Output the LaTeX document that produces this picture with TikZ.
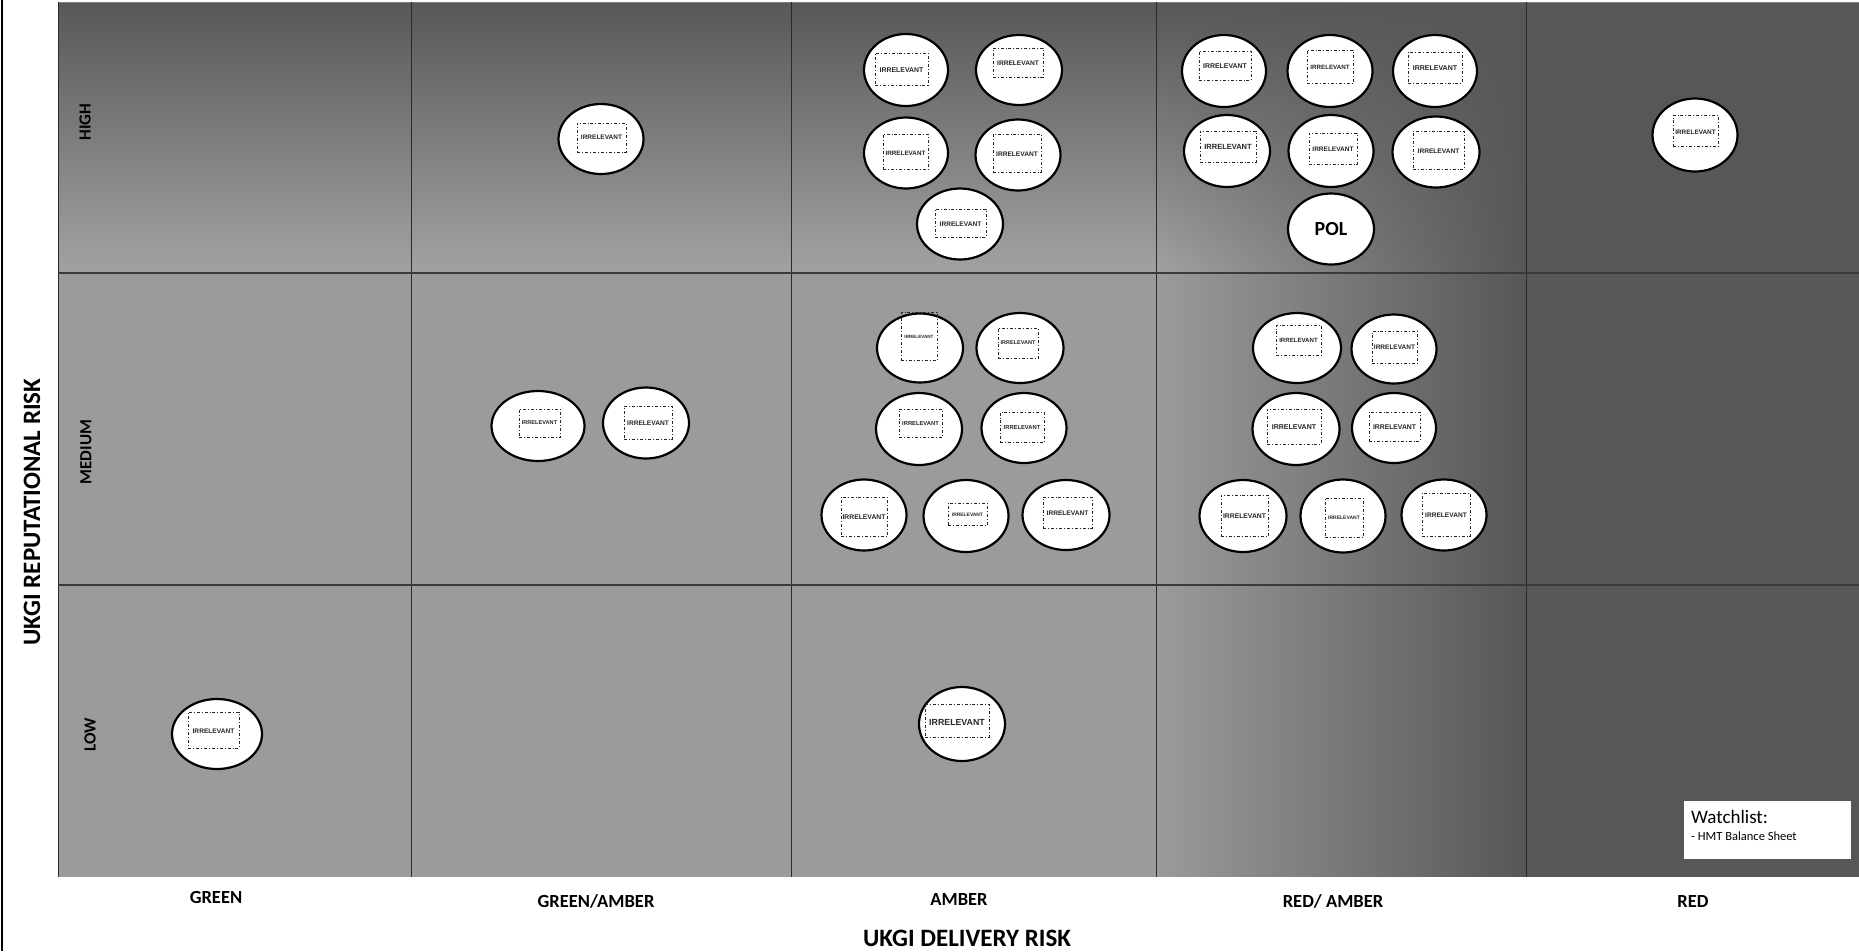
\documentclass[tikz,border=0pt]{standalone}
\usepackage{fontspec}
\setmainfont{Carlito}
\newfontfamily\arialf{Liberation Sans}
\usetikzlibrary{shapes.geometric,fadings}
\definecolor{bgmid}{HTML}{9B9B9B}
\definecolor{bgdark}{HTML}{575757}
\definecolor{bgtop}{HTML}{585858}
\definecolor{bgtopb}{HTML}{A2A2A2}
\definecolor{gridc}{HTML}{2A2A2A}
\definecolor{rowc}{HTML}{3A3A3A}
\begin{document}
\begin{tikzpicture}[x=1pt,y=-1pt,
  blobst/.style={ellipse, draw=black, line width=2.2pt, fill=white, inner sep=0pt},
  boxst/.style={draw=black!85, line width=0.9pt, dash dot, inner sep=0pt},
  axisst/.style={font=\bfseries\fontsize{18.5}{22}\selectfont, inner sep=0pt},
  rowst/.style={font=\bfseries\fontsize{17}{20}\selectfont, rotate=90, inner sep=0pt},
  titlest/.style={font=\bfseries\fontsize{25}{30}\selectfont, inner sep=0pt},
  gridline/.style={draw=gridc, line width=1pt},
  rowline/.style={draw=rowc, line width=1.6pt}
]
\useasboundingbox (0,0) rectangle (1859,951);
% backgrounds
\fill[bgmid] (58,273) rectangle (1526,877);
\shade[top color=bgtop, bottom color=bgtopb] (58,2) rectangle (1526,273);
\fill[bgdark, path fading=west] (1156,2) rectangle (1526,877);
\fill[bgdark] (1526,2) rectangle (1859,877);
% outer left line
\draw[black, line width=2pt] (2,0) -- (2,951);
% grid
\draw[gray, line width=1pt] (58,2) -- (1859,2);
\foreach \gx in {58,411,791,1156,1526} {\draw[gridline] (\gx,2) -- (\gx,877);}
\draw[rowline] (58,273) -- (1859,273);
\draw[rowline] (58,585) -- (1859,585);
% blobs
\foreach \n/\ex/\ey/\ew/\eh/\ax/\ay/\bx/\by/\ty/\fs in {
 gh/601/139/87/72/577/123/626/152/137/6.5,
 gl/217/734/92/72/188/712/239/748/731/6.6,
 gmA/538/426/95/72/519/409/560/437/423/5.6,
 gmB/646/423/88/73/624/406/672/439/423/6.6,
 ahA/906/70/86/74/875/53/928/85/70/6.9,
 ahB/1019/70/88/72/993/48/1043/77/63/6.6,
 ahC/906/153/86/73/883/134/928/169/153/6.3,
 ahD/1018/155/87/73/993/134/1041/172/154/6.6,
 ahE/960/224/88/73/935/209/986/237/224/6.6,
 amA/920/348/88/71/901/312/937/360/337/4.6,
 amB/1020/348/89/72/998/328/1038/358/343/5.5,
 amC/919/429/88/74/899/409/942/437/423/5.8,
 amD/1024/428/87/72/1000/412/1044/442/427/5.8,
 amE/864/515/87/73/841/497/887/536/517/6.8,
 amF/966/516/87/74/948/503/987/525/515/4.9,
 amG/1066/515/89/72/1043/497/1092/528/513/6.6,
 al/962/724/88/76/925/704/989/737/722/8.8,
 rhA/1224/71/86/74/1199/51/1251/80/66/6.9,
 rhB/1330/71/87/74/1307/50/1353/83/67/6.2,
 rhC/1435/71/86/74/1408/52/1462/83/68/7.0,
 rhD/1227/151/88/74/1200/131/1256/162/147/7.5,
 rhE/1331/151/87/74/1309/133/1357/164/149/6.5,
 rhF/1436/152/89/73/1413/131/1464/169/151/6.6,
 rmA/1297/348/90/72/1276/325/1321/355/340/6.1,
 rmB/1394/349/87/71/1372/331/1417/363/347/6.5,
 rmC/1296/429/89/74/1267/409/1321/444/427/7.0,
 rmD/1394/428/86/72/1369/412/1420/441/427/6.8,
 rmE/1243/516/89/74/1221/495/1268/536/516/6.8,
 rmF/1343/516/87/75/1325/498/1363/537/518/5.0,
 rmG/1444/515/87/73/1422/493/1470/536/515/6.6,
 xh/1695/135/87/75/1673/115/1718/146/132/6.4} {
  \node[blobst, minimum width={(\ew-2)*1pt}, minimum height={(\eh-2)*1pt}] (\n) at (\ex,\ey) {};
  \node[boxst, minimum width={(\bx-\ax)*1pt}, minimum height={(\by-\ay)*1pt}] (\n-r) at ({(\ax+\bx)/2},{(\ay+\by)/2}) {};
  \node[inner sep=0pt, text=black!85, font=\arialf\bfseries\fontsize{\fs}{\fs}\selectfont] (\n-t) at ({(\ax+\bx)/2},\ty) {IRRELEVANT};
}
\node[blobst, minimum width=86pt, minimum height=71pt] (pol) at (1331,229) {};
\node[inner sep=0pt, font=\bfseries\fontsize{20}{24}\selectfont] (pol-t) at (1331,229) {POL};
% watchlist
\node[fill=white, minimum width=167pt, minimum height=58pt, inner sep=0pt, anchor=north west] (wl) at (1684,801) {};
\node[anchor=base west, inner sep=0pt, font=\fontsize{19}{22}\selectfont] (wlt) at (1691,823) {Watchlist:};
\node[anchor=base west, inner sep=0pt, font=\fontsize{12.5}{14}\selectfont] (wli) at (1691,840) {- HMT Balance Sheet};
% row labels
\node[rowst] (high) at (85,122) {HIGH};
\node[rowst] (medium) at (86,452) {MEDIUM};
\node[rowst] (low) at (90,735) {LOW};
% column labels
\node[axisst] (cgreen) at (216,897) {GREEN};
\node[axisst] (cga) at (596,901) {GREEN/AMBER};
\node[axisst] (camber) at (959,899) {AMBER};
\node[axisst] (cra) at (1333,901) {RED/ AMBER};
\node[axisst] (cred) at (1693,901) {RED};
% axis titles
\node[titlest] (xtitle) at (967,938) {UKGI DELIVERY RISK};
\node[titlest, rotate=90] (ytitle) at (32,512) {UKGI REPUTATIONAL RISK};
\end{tikzpicture}
\end{document}
